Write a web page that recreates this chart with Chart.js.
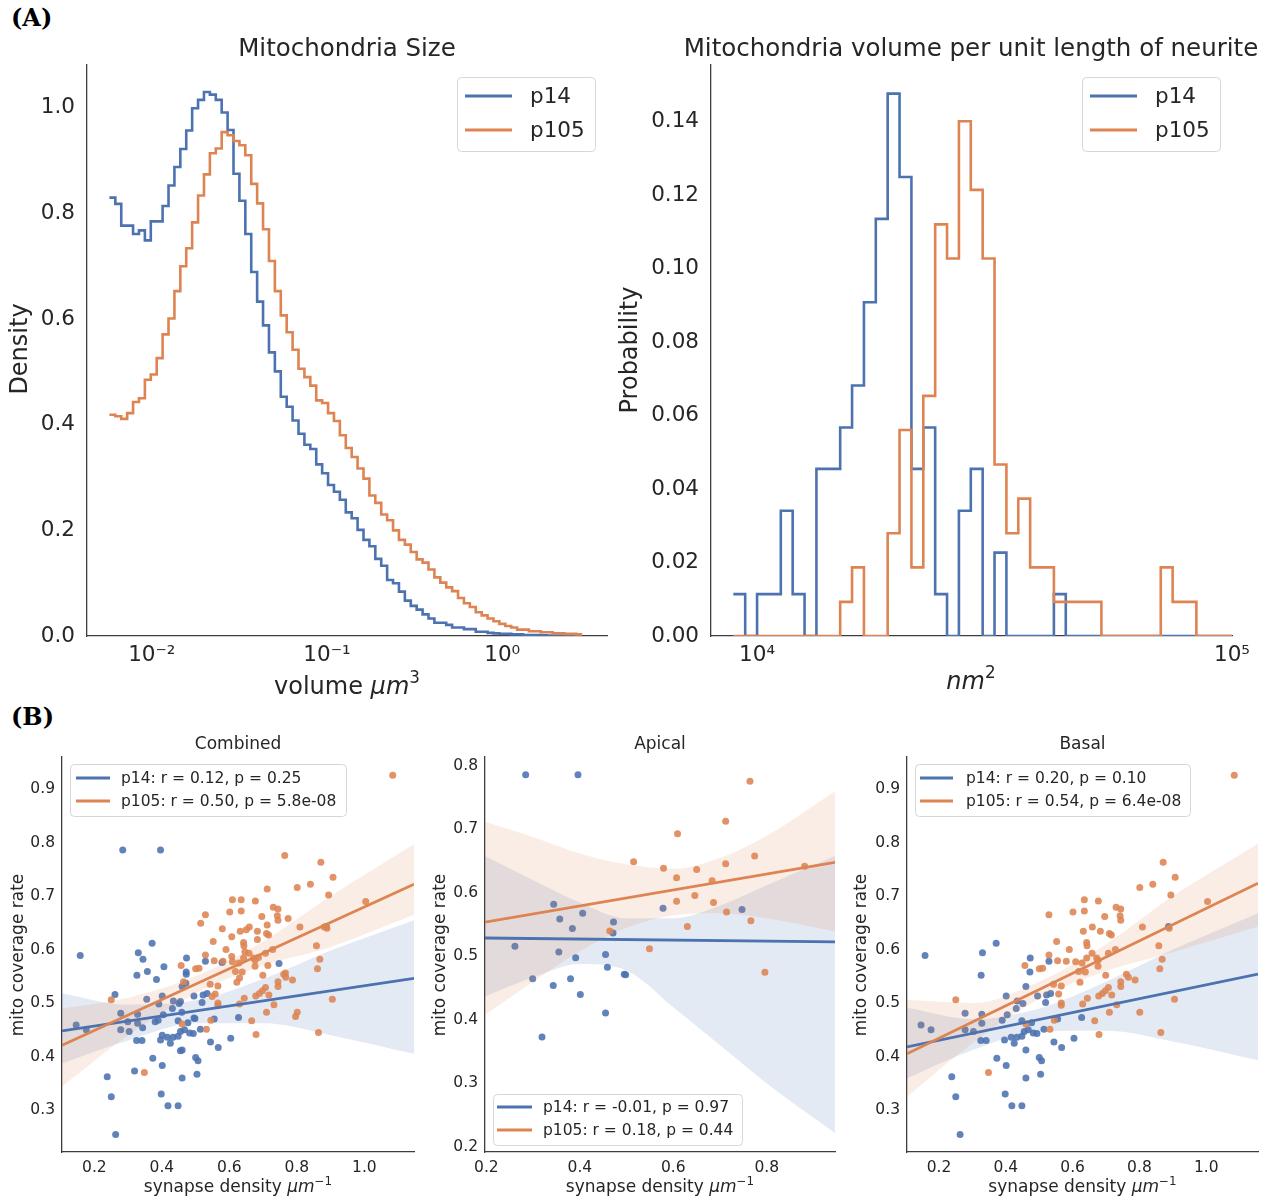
<!DOCTYPE html>
<html>
<head>
<meta charset="utf-8">
<script src="https://cdn.jsdelivr.net/npm/chart.js@4.4.1/dist/chart.umd.min.js"></script>
<style>
  body { margin: 0; background: #fff; }
  #fig { position: relative; width: 1270px; height: 1202px; overflow: hidden; }
  #fig canvas { position: absolute; }
  .tag { position: absolute; font: bold 24px "DejaVu Serif", serif; color: #000; }
</style>
</head>
<body>
<div id="fig">
  <div class="tag" style="left:11px;top:3px">(A)</div>
  <div class="tag" style="left:11px;top:702px">(B)</div>
  <canvas id="sizeHist"></canvas>
  <canvas id="volHist"></canvas>
  <canvas id="combined"></canvas>
  <canvas id="apical"></canvas>
  <canvas id="basal"></canvas>
</div>
<script>
const BLUE = [76, 114, 176], ORANGE = [221, 132, 82];
const TEXT = '#262626';
const rgba = (c, a) => `rgba(${c[0]},${c[1]},${c[2]},${a})`;

Chart.defaults.font.family = "'DejaVu Sans', sans-serif";
Chart.defaults.color = TEXT;
Chart.defaults.animation = false;

// ---- Mitochondria size: density per log-spaced bin ----
const sizeLogRange = [-2.242, 0.456];   // log10 of first / last bin edge
const sizeP14 = [
  0.830, 0.818, 0.777, 0.777, 0.761, 0.768, 0.749, 0.785, 0.785, 0.814,
  0.853, 0.888, 0.922, 0.957, 0.999, 1.015, 1.030, 1.025, 1.015, 0.991,
  0.958, 0.875, 0.824, 0.761, 0.689, 0.633, 0.588, 0.537, 0.501, 0.453,
  0.434, 0.408, 0.383, 0.362, 0.354, 0.325, 0.308, 0.286, 0.273, 0.258,
  0.234, 0.223, 0.201, 0.182, 0.170, 0.146, 0.133, 0.106, 0.100, 0.084,
  0.067, 0.057, 0.050, 0.041, 0.033, 0.025, 0.025, 0.021, 0.016, 0.016,
  0.013, 0.013, 0.008, 0.008, 0.006, 0.005, 0.004, 0.004, 0.003, 0.003,
  0.002, 0.002, 0.002, 0.0015, 0.001, 0.001, 0.001, 0.001, 0.0005, 0.0005
];
const sizeP105 = [
  0.419, 0.416, 0.411, 0.422, 0.443, 0.450, 0.485, 0.495, 0.526, 0.571,
  0.601, 0.653, 0.700, 0.734, 0.783, 0.834, 0.874, 0.914, 0.923, 0.954,
  0.948, 0.937, 0.929, 0.910, 0.856, 0.819, 0.770, 0.710, 0.653, 0.607,
  0.575, 0.542, 0.506, 0.490, 0.474, 0.446, 0.441, 0.422, 0.407, 0.380,
  0.356, 0.339, 0.317, 0.298, 0.266, 0.252, 0.230, 0.219, 0.200, 0.182,
  0.173, 0.159, 0.145, 0.139, 0.126, 0.111, 0.101, 0.092, 0.085, 0.072,
  0.062, 0.055, 0.045, 0.039, 0.033, 0.028, 0.023, 0.019, 0.016, 0.012,
  0.012, 0.009, 0.009, 0.007, 0.007, 0.005, 0.005, 0.004, 0.004, 0.003
];
const sizeTicks = [0.01, 0.1, 1];
const sizeTickLabels = ['10⁻²', '10⁻¹', '10⁰'];
const densityTicks = [0, 0.2, 0.4, 0.6, 0.8, 1.0];

// ---- Volume per unit length: probability per log-spaced bin ----
const volLogRange = [3.95, 5.0];
const volP14 = [
  0.0114, 0, 0.0114, 0.0114, 0.0341, 0.0114, 0, 0.0455, 0.0455, 0.0568,
  0.0682, 0.0909, 0.1136, 0.1477, 0.1250, 0.0455, 0.0568, 0.0114, 0, 0.0341,
  0.0455, 0, 0.0227, 0, 0, 0, 0, 0.0114, 0, 0,
  0, 0, 0, 0, 0, 0, 0, 0, 0, 0, 0, 0
];
const volP105 = [
  0, 0, 0, 0, 0, 0, 0, 0, 0, 0.0093,
  0.0187, 0, 0, 0.0280, 0.0561, 0.0187, 0.0654, 0.1121, 0.1028, 0.1402,
  0.1215, 0.1028, 0.0467, 0.0280, 0.0374, 0.0187, 0.0187, 0.0093, 0.0093, 0.0093,
  0.0093, 0, 0, 0, 0, 0, 0.0187, 0.0093, 0.0093, 0, 0, 0
];
const volTicks = [1e4, 1e5];
const volTickLabels = ['10⁴', '10⁵'];
const probTicks = [0, 0.02, 0.04, 0.06, 0.08, 0.10, 0.12, 0.14];

// ---- Synapse density vs mito coverage rate, [x, y] per neurite ----
const apicalP14 = [
  [0.284, 0.786], [0.396, 0.786], [0.344, 0.582], [0.357, 0.559], [0.406, 0.568], [0.384, 0.544],
  [0.472, 0.554], [0.471, 0.537], [0.578, 0.576], [0.747, 0.574], [0.261, 0.516], [0.355, 0.507],
  [0.391, 0.498], [0.455, 0.503], [0.459, 0.483], [0.495, 0.472], [0.498, 0.471], [0.299, 0.465],
  [0.380, 0.465], [0.343, 0.454], [0.401, 0.440], [0.455, 0.411], [0.319, 0.373]
];
const apicalP105 = [
  [0.764, 0.776], [0.712, 0.713], [0.609, 0.693], [0.515, 0.649], [0.579, 0.639], [0.650, 0.637],
  [0.712, 0.646], [0.774, 0.658], [0.881, 0.642], [0.607, 0.624], [0.683, 0.619], [0.646, 0.596],
  [0.607, 0.587], [0.686, 0.585], [0.714, 0.570], [0.766, 0.556], [0.630, 0.547], [0.464, 0.540],
  [0.549, 0.512], [0.796, 0.475]
];
const basalP14 = [
  [0.158, 0.589], [0.330, 0.594], [0.371, 0.612], [0.473, 0.584], [0.529, 0.578], [0.326, 0.552],
  [0.472, 0.558], [0.887, 0.643], [0.460, 0.531], [0.401, 0.513], [0.434, 0.504], [0.451, 0.499],
  [0.431, 0.490], [0.404, 0.478], [0.389, 0.468], [0.448, 0.467], [0.477, 0.463], [0.278, 0.481],
  [0.328, 0.479], [0.328, 0.462], [0.278, 0.450], [0.303, 0.447], [0.325, 0.430], [0.341, 0.430],
  [0.396, 0.431], [0.416, 0.436], [0.425, 0.425], [0.433, 0.436], [0.448, 0.438], [0.455, 0.447],
  [0.467, 0.450], [0.482, 0.444], [0.493, 0.443], [0.514, 0.451], [0.519, 0.501], [0.495, 0.513],
  [0.522, 0.515], [0.534, 0.518], [0.544, 0.427], [0.567, 0.417], [0.604, 0.434], [0.627, 0.473],
  [0.555, 0.470], [0.373, 0.397], [0.401, 0.383], [0.460, 0.412], [0.500, 0.398], [0.507, 0.392],
  [0.504, 0.367], [0.460, 0.360], [0.238, 0.362], [0.250, 0.325], [0.398, 0.330], [0.418, 0.308],
  [0.448, 0.308], [0.263, 0.254], [0.146, 0.459], [0.176, 0.450]
];
const basalP105 = [
  [1.084, 0.926], [0.871, 0.763], [0.907, 0.735], [0.801, 0.716], [0.840, 0.722], [0.894, 0.702],
  [1.004, 0.690], [0.809, 0.642], [0.889, 0.640], [0.858, 0.607], [0.868, 0.582], [0.861, 0.564],
  [0.635, 0.693], [0.677, 0.691], [0.529, 0.665], [0.601, 0.670], [0.635, 0.672], [0.696, 0.662],
  [0.730, 0.679], [0.744, 0.676], [0.742, 0.663], [0.744, 0.655], [0.632, 0.634], [0.659, 0.642],
  [0.683, 0.634], [0.710, 0.630], [0.716, 0.627], [0.552, 0.615], [0.642, 0.613], [0.643, 0.607],
  [0.590, 0.600], [0.529, 0.590], [0.555, 0.579], [0.581, 0.578], [0.609, 0.577], [0.628, 0.575],
  [0.642, 0.584], [0.658, 0.593], [0.672, 0.584], [0.676, 0.580], [0.707, 0.593], [0.728, 0.600],
  [0.676, 0.569], [0.618, 0.559], [0.638, 0.558], [0.699, 0.552], [0.761, 0.554], [0.767, 0.548],
  [0.787, 0.543], [0.457, 0.570], [0.500, 0.564], [0.510, 0.565], [0.622, 0.539], [0.543, 0.535],
  [0.566, 0.532], [0.558, 0.517], [0.566, 0.500], [0.566, 0.496], [0.630, 0.498], [0.644, 0.509],
  [0.678, 0.513], [0.689, 0.518], [0.698, 0.523], [0.707, 0.529], [0.717, 0.515], [0.744, 0.540],
  [0.744, 0.531], [0.732, 0.497], [0.710, 0.483], [0.801, 0.483], [0.905, 0.507], [0.864, 0.445],
  [0.679, 0.441], [0.666, 0.467], [0.545, 0.468], [0.532, 0.451], [0.460, 0.461], [0.250, 0.506],
  [0.348, 0.370]
];
const combinedP14 = apicalP14.concat(basalP14);
const combinedP105 = apicalP105.concat(basalP105);

// regression lines (ends) and 95% bands sampled along x
const combFitX = [0.104, 1.147];
const combFitP14 = [0.448, 0.546];
const combFitP105 = [0.421, 0.722];
const combBandX = [0.104, 0.3, 0.5, 0.7, 0.9, 1.147];
const combP14Hi = [0.518, 0.497, 0.505, 0.545, 0.598, 0.655];
const combP14Lo = [0.387, 0.430, 0.462, 0.462, 0.440, 0.405];
const combP105Hi = [0.490, 0.510, 0.550, 0.615, 0.700, 0.797];
const combP105Lo = [0.344, 0.440, 0.518, 0.570, 0.605, 0.665];

const apiFitX = [0.197, 0.946];
const apiFitP14 = [0.529, 0.523];
const apiFitP105 = [0.554, 0.648];
const apiBandX = [0.197, 0.3, 0.4, 0.5, 0.6, 0.7, 0.8, 0.946];
const apiP14Hi = [0.658, 0.620, 0.585, 0.560, 0.560, 0.580, 0.612, 0.658];
const apiP14Lo = [0.437, 0.467, 0.488, 0.478, 0.420, 0.360, 0.300, 0.222];
const apiP105Hi = [0.712, 0.688, 0.662, 0.645, 0.638, 0.655, 0.690, 0.760];
const apiP105Lo = [0.408, 0.460, 0.508, 0.545, 0.565, 0.568, 0.560, 0.539];

const basFitX = [0.104, 1.155];
const basFitP14 = [0.418, 0.554];
const basFitP105 = [0.405, 0.724];
const basBandX = [0.104, 0.3, 0.5, 0.7, 0.9, 1.155];
const basP14Hi = [0.491, 0.470, 0.490, 0.540, 0.600, 0.668];
const basP14Lo = [0.359, 0.412, 0.447, 0.448, 0.428, 0.393];
const basP105Hi = [0.506, 0.500, 0.540, 0.610, 0.700, 0.798];
const basP105Lo = [0.325, 0.425, 0.508, 0.560, 0.595, 0.643];

const synTicks = [0.2, 0.4, 0.6, 0.8, 1.0];
const apiXTicks = [0.2, 0.4, 0.6, 0.8];
const coverTicks = [0.3, 0.4, 0.5, 0.6, 0.7, 0.8, 0.9];
const apiYTicks = [0.2, 0.3, 0.4, 0.5, 0.6, 0.7, 0.8];

// ---------- helpers ----------
function stepPoints(logRange, values) {
  const n = values.length, w = (logRange[1] - logRange[0]) / n;
  const pts = values.map((v, i) => ({ x: Math.pow(10, logRange[0] + i * w), y: v }));
  pts.push({ x: Math.pow(10, logRange[1]), y: values[n - 1] });
  return pts;
}
const xy = pairs => pairs.map(p => ({ x: p[0], y: p[1] }));
const zipXY = (xs, ys) => xs.map((x, i) => ({ x, y: ys[i] }));

function drawRich(ctx, it, box) {
  const parts = typeof it.text === 'string' ? [{ t: it.text }] : it.text;
  ctx.save();
  ctx.translate(it.x - box.x, it.y - box.y);
  if (it.rot) ctx.rotate(it.rot);
  ctx.fillStyle = TEXT;
  ctx.textBaseline = 'middle';
  ctx.textAlign = 'left';
  const fonts = parts.map(p => `${p.it ? 'italic ' : ''}${p.sup ? it.size * 0.7 : it.size}px 'DejaVu Sans'`);
  const widths = parts.map((p, i) => { ctx.font = fonts[i]; return ctx.measureText(p.t).width; });
  let x = -widths.reduce((a, b) => a + b, 0) / 2;
  parts.forEach((p, i) => {
    ctx.font = fonts[i];
    ctx.fillText(p.t, x, p.sup ? -it.size * 0.38 : 0);
    x += widths[i];
  });
  ctx.restore();
}

function drawLegend(ctx, lg, box) {
  const x = lg.x - box.x, y = lg.y - box.y;
  ctx.save();
  ctx.beginPath();
  ctx.roundRect(x + 0.5, y + 0.5, lg.w, lg.h, 4);
  ctx.fillStyle = 'rgba(255,255,255,0.8)';
  ctx.fill();
  ctx.strokeStyle = '#d6d6d6';
  ctx.lineWidth = 1;
  ctx.stroke();
  ctx.font = `${lg.size}px 'DejaVu Sans'`;
  ctx.textBaseline = 'middle';
  ctx.fillStyle = TEXT;
  lg.rows.forEach((r, i) => {
    const ry = lg.rowY[i] - box.y;
    ctx.beginPath();
    ctx.moveTo(lg.lineX[0] - box.x, ry);
    ctx.lineTo(lg.lineX[1] - box.x, ry);
    ctx.strokeStyle = rgba(r.color, 1);
    ctx.lineWidth = 2.8;
    ctx.stroke();
    ctx.fillText(r.label, lg.textX - box.x, ry + 1);
  });
  ctx.restore();
}

function annotate(box, items, legend) {
  return {
    id: 'annotate',
    afterDraw(chart) {
      items.forEach(it => drawRich(chart.ctx, it, box));
      if (legend) drawLegend(chart.ctx, legend, box);
    }
  };
}

function axis(type, min, max, ticks, fmt, size, pad) {
  return {
    type, min, max,
    grid: { display: false, drawTicks: false },
    border: { display: true, color: '#3d3d3d', width: 1.3 },
    ticks: { font: { size }, padding: pad, color: TEXT, autoSkip: false, maxRotation: 0, includeBounds: false,
             callback: v => fmt(v) },
    afterBuildTicks: s => { s.ticks = ticks.map(v => ({ value: v })); }
  };
}

// box: canvas placement on the page, area: plot area on the page
function build(id, box, area, cfg) {
  const c = document.getElementById(id);
  c.width = box.w; c.height = box.h;
  c.style.left = box.x + 'px'; c.style.top = box.y + 'px';
  c.style.width = box.w + 'px'; c.style.height = box.h + 'px';
  const o = cfg.options;
  o.responsive = false;
  o.devicePixelRatio = 1;
  o.events = [];
  o.layout = { padding: { left: 0, top: area.top - box.y, right: box.x + box.w - area.right, bottom: 0 } };
  o.scales.x.afterFit = s => { s.height = box.y + box.h - area.bottom; };
  o.scales.y.afterFit = s => { s.width = area.left - box.x; };
  o.plugins = { legend: { display: false }, tooltip: { enabled: false } };
  return new Chart(c, { type: cfg.type, data: cfg.data, options: o,
                        plugins: [annotate(box, cfg.text, cfg.legend)] });
}

function histLine(points, color, order) {
  return { data: points, borderColor: rgba(color, 1), borderWidth: 2.6, pointRadius: 0,
           stepped: true, fill: false, order };
}

// ---------- (A) left: mitochondria size ----------
{
  const box = { x: 0, y: 30, w: 640, h: 690 };
  build('sizeHist', box, { left: 87, top: 65, right: 607, bottom: 636 }, {
    type: 'line',
    data: { datasets: [
      histLine(stepPoints(sizeLogRange, sizeP14), BLUE, 2),
      histLine(stepPoints(sizeLogRange, sizeP105), ORANGE, 1)
    ] },
    options: { scales: {
      x: axis('logarithmic', Math.pow(10, -2.37), Math.pow(10, 0.598), sizeTicks,
               v => sizeTickLabels[sizeTicks.indexOf(v)], 21.5, 7),
      y: axis('linear', 0, 1.081, densityTicks, v => v.toFixed(1), 21.5, 12)
    } },
    text: [
      { text: 'Mitochondria Size', x: 347, y: 50, size: 24.5 },
      { text: 'Density', x: 21, y: 349, size: 24 },
      { text: [{ t: 'volume ' }, { t: 'μm', it: true }, { t: '3', sup: true }], x: 347, y: 688, size: 24 }
    ].map((t, i) => i === 1 ? Object.assign(t, { rot: -Math.PI / 2 }) : t),
    legend: { x: 457, y: 77, w: 138, h: 74, size: 21.5, lineX: [465, 512], textX: 530, rowY: [96, 130],
              rows: [{ label: 'p14', color: BLUE }, { label: 'p105', color: ORANGE }] }
  });
}

// ---------- (A) right: volume per unit length ----------
{
  const box = { x: 612, y: 30, w: 658, h: 690 };
  build('volHist', box, { left: 711, top: 65, right: 1232, bottom: 636 }, {
    type: 'line',
    data: { datasets: [
      histLine(stepPoints(volLogRange, volP14), BLUE, 2),
      histLine(stepPoints(volLogRange, volP105), ORANGE, 1)
    ] },
    options: { scales: {
      x: axis('logarithmic', Math.pow(10, 3.903), Math.pow(10, 5.0), volTicks,
               v => volTickLabels[volTicks.indexOf(v)], 21.5, 7),
      y: axis('linear', 0, 0.1555, probTicks, v => v.toFixed(2), 21.5, 12)
    } },
    text: [
      { text: 'Mitochondria volume per unit length of neurite', x: 971, y: 50, size: 24.5 },
      { text: 'Probability', x: 631, y: 350, size: 24, rot: -Math.PI / 2 },
      { text: [{ t: 'nm', it: true }, { t: '2', sup: true }], x: 971, y: 683, size: 24 }
    ],
    legend: { x: 1082, y: 77, w: 138, h: 74, size: 21.5, lineX: [1090, 1137], textX: 1155, rowY: [96, 130],
              rows: [{ label: 'p14', color: BLUE }, { label: 'p105', color: ORANGE }] }
  });
}

// ---------- (B) regression panels ----------
function regPanel(id, box, area, p) {
  const band = (hi, lo, color, order) => [
    { type: 'line', data: zipXY(p.bandX, hi), borderColor: 'rgba(0,0,0,0)', borderWidth: 0, pointRadius: 0,
      cubicInterpolationMode: 'monotone', fill: '+1', backgroundColor: rgba(color, 0.15), order },
    { type: 'line', data: zipXY(p.bandX, lo), borderColor: 'rgba(0,0,0,0)', borderWidth: 0, pointRadius: 0,
      cubicInterpolationMode: 'monotone', fill: false, order }
  ];
  const dots = (pts, color, order) => ({ type: 'scatter', data: xy(pts), backgroundColor: rgba(color, 0.88),
      borderWidth: 0, pointRadius: 3.5, order });
  const fit = (ys, color, order) => ({ type: 'line', data: zipXY(p.fitX, ys), borderColor: rgba(color, 1),
      borderWidth: 2.8, pointRadius: 0, fill: false, order });
  const mid = (area.left + area.right) / 2;
  build(id, box, area, {
    type: 'scatter',
    data: { datasets: [
      dots(p.p14, BLUE, 6),
      ...band(p.p14Hi, p.p14Lo, BLUE, 5),
      dots(p.p105, ORANGE, 4),
      ...band(p.p105Hi, p.p105Lo, ORANGE, 3),
      fit(p.fit14, BLUE, 2),
      fit(p.fit105, ORANGE, 1)
    ] },
    options: { scales: {
      x: axis('linear', p.xr[0], p.xr[1], p.xTicks, v => v.toFixed(1), 15.5, 7),
      y: axis('linear', p.yr[0], p.yr[1], p.yTicks, v => v.toFixed(1), 15.5, 7)
    } },
    text: [
      { text: p.title, x: mid, y: 745, size: 17 },
      { text: 'mito coverage rate', x: p.yLabelX, y: 955, size: 17, rot: -Math.PI / 2 },
      { text: [{ t: 'synapse density ' }, { t: 'μm', it: true }, { t: '−1', sup: true }], x: mid, y: 1188, size: 17 }
    ],
    legend: Object.assign({ size: 15.5, rows: [
      { label: p.labels[0], color: BLUE }, { label: p.labels[1], color: ORANGE }] }, p.legend)
  });
}

regPanel('combined', { x: 0, y: 720, w: 425, h: 482 }, { left: 62, top: 757, right: 414, bottom: 1152 }, {
  title: 'Combined', yLabelX: 19,
  p14: combinedP14, p105: combinedP105,
  fitX: combFitX, fit14: combFitP14, fit105: combFitP105,
  bandX: combBandX, p14Hi: combP14Hi, p14Lo: combP14Lo, p105Hi: combP105Hi, p105Lo: combP105Lo,
  xr: [0.104, 1.147], yr: [0.2215, 0.960], xTicks: synTicks, yTicks: coverTicks,
  labels: ['p14: r = 0.12, p = 0.25', 'p105: r = 0.50, p = 5.8e-08'],
  legend: { x: 70, y: 764, w: 276, h: 52, lineX: [76, 110], textX: 121, rowY: [778, 801] }
});

regPanel('apical', { x: 425, y: 720, w: 425, h: 482 }, { left: 485, top: 757, right: 835, bottom: 1152 }, {
  title: 'Apical', yLabelX: 441,
  p14: apicalP14, p105: apicalP105,
  fitX: apiFitX, fit14: apiFitP14, fit105: apiFitP105,
  bandX: apiBandX, p14Hi: apiP14Hi, p14Lo: apiP14Lo, p105Hi: apiP105Hi, p105Lo: apiP105Lo,
  xr: [0.197, 0.946], yr: [0.192, 0.814], xTicks: apiXTicks, yTicks: apiYTicks,
  labels: ['p14: r = -0.01, p = 0.97', 'p105: r = 0.18, p = 0.44'],
  legend: { x: 493, y: 1094, w: 249, h: 51, lineX: [497, 532], textX: 543, rowY: [1107, 1130] }
});

regPanel('basal', { x: 850, y: 720, w: 420, h: 482 }, { left: 907, top: 757, right: 1258, bottom: 1152 }, {
  title: 'Basal', yLabelX: 862,
  p14: basalP14, p105: basalP105,
  fitX: basFitX, fit14: basFitP14, fit105: basFitP105,
  bandX: basBandX, p14Hi: basP14Hi, p14Lo: basP14Lo, p105Hi: basP105Hi, p105Lo: basP105Lo,
  xr: [0.104, 1.155], yr: [0.2215, 0.960], xTicks: synTicks, yTicks: coverTicks,
  labels: ['p14: r = 0.20, p = 0.10', 'p105: r = 0.54, p = 6.4e-08'],
  legend: { x: 915, y: 764, w: 275, h: 52, lineX: [920, 953], textX: 966, rowY: [778, 801] }
});
</script>
</body>
</html>
